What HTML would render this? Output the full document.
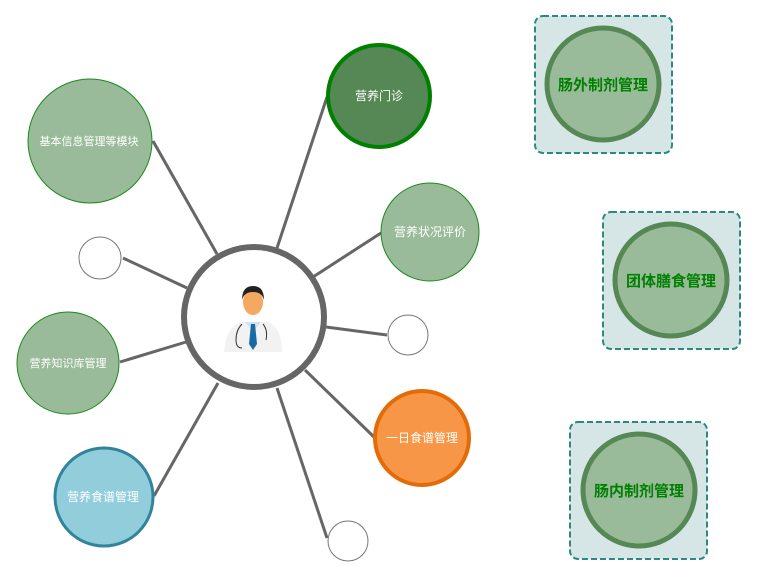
<!DOCTYPE html>
<html><head><meta charset="utf-8"><style>
html,body{margin:0;padding:0;background:#fff;}
svg{display:block;}
text{font-family:"Liberation Sans","Noto Sans CJK SC",sans-serif;}
</style></head><body>
<svg width="757" height="578" viewBox="0 0 757 578" xmlns="http://www.w3.org/2000/svg">
<g stroke="#666" stroke-width="3">
<line x1="153" y1="141" x2="217" y2="254"/>
<line x1="123" y1="258" x2="187" y2="288"/>
<line x1="327" y1="97" x2="277" y2="248"/>
<line x1="381" y1="233" x2="313" y2="277"/>
<line x1="387" y1="335" x2="326" y2="327"/>
<line x1="374" y1="437" x2="305" y2="370"/>
<line x1="327" y1="538" x2="277" y2="388"/>
<line x1="154" y1="496" x2="218" y2="383"/>
<line x1="120" y1="362" x2="186" y2="342"/>
</g>
<circle cx="254" cy="317" r="70" fill="#fff" stroke="#666" stroke-width="6"/>
<g>
<path d="M224 352 Q226 328 240 322 L268 322 Q282 328 282 352 Z" fill="#f2f2f2"/>
<path d="M245 322 L253 332 L261 322 Z" fill="#cfe3f5"/>
<path d="M251 324 L255 324 L257 344 L253 350 L249 344 Z" fill="#1a6aa8"/>
<ellipse cx="253" cy="302" rx="10" ry="13" fill="#f5a860"/>
<path d="M242 300 Q242 286 253 286 Q264 286 264 300 Q262 292 253 292 Q244 292 242 300 Z" fill="#222"/>
<path d="M242 324 Q236 330 236 340 Q236 348 242 348" fill="none" stroke="#333" stroke-width="1"/>
<path d="M263 324 Q268 330 266 340" fill="none" stroke="#333" stroke-width="1"/>
</g>
<circle cx="379" cy="96" r="51" fill="#558855" stroke="#008000" stroke-width="4"/>
<text x="379" y="100" font-size="12" fill="#fff" text-anchor="middle">营养门诊</text>
<circle cx="90" cy="141" r="62" fill="#99bb99" stroke="#1a8a1a" stroke-width="1"/>
<text x="89" y="145" font-size="11" fill="#fff" text-anchor="middle">基本信息管理等模块</text>
<circle cx="430" cy="232" r="49" fill="#99bb99" stroke="#1a8a1a" stroke-width="1"/>
<text x="430" y="236" font-size="12" fill="#fff" text-anchor="middle">营养状况评价</text>
<circle cx="100" cy="258" r="21" fill="#fff" stroke="#777" stroke-width="1"/>
<circle cx="408" cy="335" r="20" fill="#fff" stroke="#777" stroke-width="1"/>
<circle cx="348" cy="541" r="20" fill="#fff" stroke="#777" stroke-width="1"/>
<circle cx="68" cy="363" r="51" fill="#99bb99" stroke="#1a8a1a" stroke-width="1"/>
<text x="68" y="367" font-size="11" fill="#fff" text-anchor="middle">营养知识库管理</text>
<circle cx="104" cy="497" r="49" fill="#92cddc" stroke="#31849b" stroke-width="3"/>
<text x="103" y="501" font-size="12" fill="#fff" text-anchor="middle">营养食谱管理</text>
<circle cx="422" cy="438" r="47" fill="#f79646" stroke="#e36c09" stroke-width="4"/>
<text x="422" y="442" font-size="12" fill="#fff" text-anchor="middle">一日食谱管理</text>
<g>
<rect x="535" y="16" width="137" height="137" rx="8" fill="#d6e6e6" stroke="#2a8a80" stroke-width="2" stroke-dasharray="6,3"/>
<circle cx="603" cy="84" r="56" fill="#99bb99" stroke="#558855" stroke-width="5"/>
<text x="603" y="90" font-size="15" font-weight="bold" fill="#008000" text-anchor="middle">肠外制剂管理</text>
<rect x="603" y="212" width="137" height="137" rx="8" fill="#d6e6e6" stroke="#2a8a80" stroke-width="2" stroke-dasharray="6,3"/>
<circle cx="671" cy="280" r="56" fill="#99bb99" stroke="#558855" stroke-width="5"/>
<text x="671" y="286" font-size="15" font-weight="bold" fill="#008000" text-anchor="middle">团体膳食管理</text>
<rect x="570" y="422" width="137" height="137" rx="8" fill="#d6e6e6" stroke="#2a8a80" stroke-width="2" stroke-dasharray="6,3"/>
<circle cx="639" cy="490" r="56" fill="#99bb99" stroke="#558855" stroke-width="5"/>
<text x="639" y="496" font-size="15" font-weight="bold" fill="#008000" text-anchor="middle">肠内制剂管理</text>
</g>
</svg>
</body></html>
